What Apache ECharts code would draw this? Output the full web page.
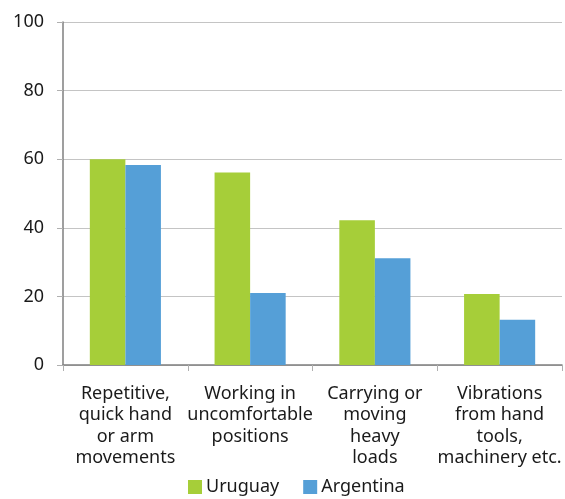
<!DOCTYPE html>
<html>
<head>
<meta charset="utf-8">
<script src="https://cdn.jsdelivr.net/npm/echarts@6/dist/echarts.min.js"></script>
<style>
  html, body { margin: 0; padding: 0; background: #fff; }
  #chart { width: 565px; height: 499px; }
</style>
</head>
<body>
<div id="chart"></div>
<script>
// categories and values
var categories = [
  "Repetitive,\nquick hand\nor arm\nmovements",
  "Working in\nuncomfortable\npositions",
  "Carrying or\nmoving\nheavy\nloads",
  "Vibrations\nfrom hand\ntools,\nmachinery etc."
];
var uruguay = [60, 56.1, 42.2, 20.7];
var argentina = [58.3, 21.0, 31.1, 13.2];
var yTicks = { min: 0, max: 100, interval: 20 };

var font = "Noto Sans";
var chart = echarts.init(document.getElementById("chart"));
chart.setOption({
  animation: false,
  textStyle: { fontFamily: font },
  grid: { left: 63, right: 3, top: 22, bottom: 134, containLabel: false },
  legend: {
    bottom: -2,
    left: 183,
    itemWidth: 14,
    itemHeight: 14,
    itemGap: 24,
    icon: "rect",
    textStyle: { fontSize: 18, color: "#1a1a1a", fontFamily: font, padding: [0, 0, 0, -1] },
    data: ["Uruguay", "Argentina"]
  },
  xAxis: {
    type: "category",
    data: categories,
    axisLine: { lineStyle: { color: "#7f7f7f", width: 1.5 } },
    axisTick: { show: true, length: 6, lineStyle: { color: "#b0b0b0" } },
    axisLabel: {
      interval: 0,
      margin: 18,
      fontSize: 18,
      lineHeight: 21.5,
      color: "#1a1a1a",
      fontFamily: font
    }
  },
  yAxis: {
    type: "value",
    min: yTicks.min,
    max: yTicks.max,
    interval: yTicks.interval,
    axisLine: { show: true, lineStyle: { color: "#7f7f7f", width: 1.5 } },
    axisTick: { show: true, length: 6, lineStyle: { color: "#b0b0b0" } },
    splitLine: { lineStyle: { color: "#c4c4c4", width: 1 } },
    axisLabel: { margin: 19, fontSize: 18, color: "#1a1a1a", fontFamily: font }
  },
  series: [
    {
      name: "Uruguay",
      type: "bar",
      data: uruguay,
      barWidth: "28.5%",
      barGap: "0%",
      itemStyle: { color: "#a6ce39" }
    },
    {
      name: "Argentina",
      type: "bar",
      data: argentina,
      barWidth: "28.5%",
      itemStyle: { color: "#559fd7" }
    }
  ]
});
</script>
</body>
</html>
